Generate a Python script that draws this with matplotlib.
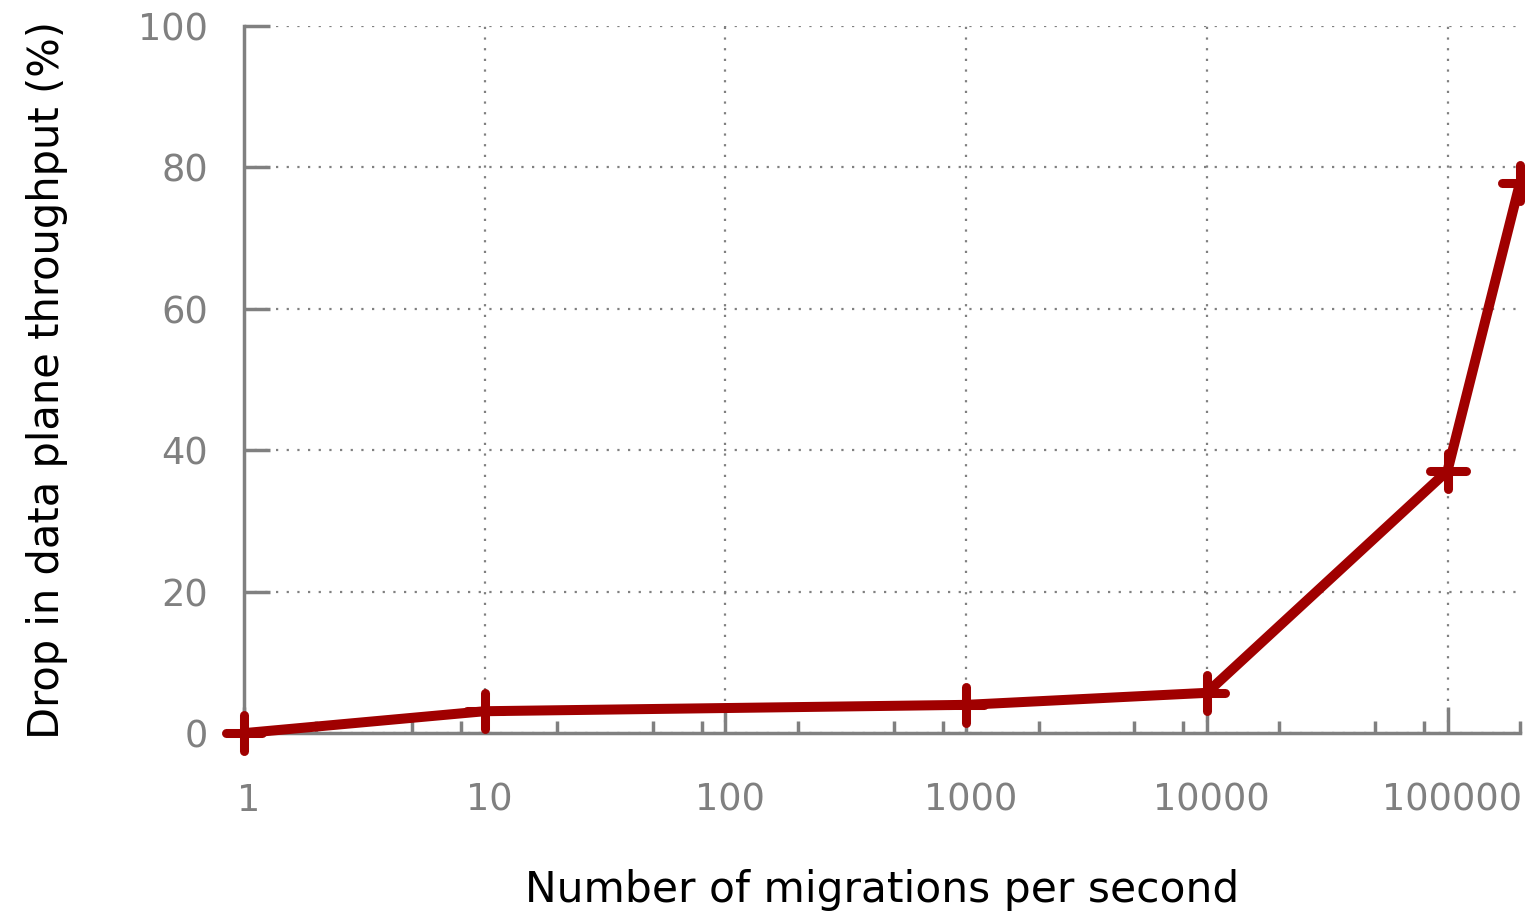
import numpy as np
import matplotlib.pyplot as plt
from matplotlib.ticker import FixedLocator, NullFormatter
from matplotlib.markers import MarkerStyle
from matplotlib.transforms import ScaledTranslation

plt.rcParams.update({'font.family': 'DejaVu Sans'})

migrations = [1, 10, 1000, 10000, 100000, 200000]
drop_pct = [0.0, 3.1, 4.0, 5.7, 37.1, 77.8]

x_major = [1, 10, 100, 1000, 10000, 100000]
x_minor = [2, 5, 8, 20, 50, 80, 200, 500, 800, 2000, 5000, 8000,
           20000, 50000, 80000, 200000]
y_major = [0, 20, 40, 60, 80, 100]

grey = '#808080'
red = '#a00000'

fig = plt.figure(figsize=(15.25, 9.13), dpi=100)
ax = fig.add_axes([0.160, 0.197, 0.8367, 0.7745])

plus = MarkerStyle('+', capstyle='round')
ax.plot(migrations, drop_pct, color=red, lw=7.2, marker=plus, ms=26, mew=6.5,
        solid_capstyle='round', solid_joinstyle='round', clip_on=False, zorder=5)

ax.set_xscale('log')
ax.set_xlim(1, 200000)
ax.set_ylim(0, 100)

ax.xaxis.set_major_locator(FixedLocator(x_major))
ax.xaxis.set_minor_locator(FixedLocator(x_minor))
ax.xaxis.set_minor_formatter(NullFormatter())
ax.set_xticklabels([str(v) for v in x_major])
ax.set_yticks(y_major)

ax.grid(True, which='major', color=grey, linestyle=(0, (1, 3.8)), lw=1.6)
ax.set_axisbelow(True)

for side in ['top', 'right']:
    ax.spines[side].set_visible(False)
for side in ['left', 'bottom']:
    ax.spines[side].set_color(grey)
    ax.spines[side].set_linewidth(2.5)

ax.tick_params(axis='both', which='major', direction='in', length=19, width=2.5,
               color=grey, labelcolor=grey, labelsize=26.5)
ax.tick_params(axis='x', which='major', pad=35)
ax.tick_params(axis='y', which='major', pad=26)
ax.tick_params(axis='x', which='minor', direction='in', length=9, width=2.5,
               color=grey)
ax.tick_params(axis='y', which='minor', left=False)

shift = ScaledTranslation(5 / 100, 0, fig.dpi_scale_trans)
for lab in ax.get_xticklabels():
    lab.set_transform(lab.get_transform() + shift)

ax.set_xlabel('Number of migrations per second', fontsize=30.5, labelpad=36)
ax.set_ylabel('Drop in data plane throughput (%)', fontsize=30, labelpad=50)

fig.savefig('out.png', dpi=100)
